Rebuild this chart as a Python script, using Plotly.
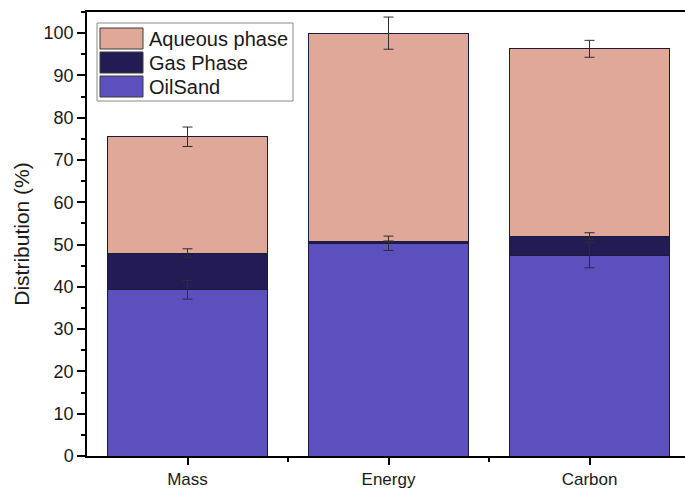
import numpy as np
import plotly.graph_objects as go

# Distribution of mass, energy and carbon across product phases
categories = ["Mass", "Energy", "Carbon"]
oilsand = [39.3, 50.3, 47.5]
oilsand_err = [2.2, 1.7, 3.0]
gas_phase = [8.7, 0.5, 4.5]
gas_phase_err = [1.0, 0.0, 0.8]
aqueous = [27.5, 49.2, 44.3]
aqueous_err = [2.3, 3.8, 2.0]

series = [
    ("OilSand", oilsand, oilsand_err, "#5b50bd"),
    ("Gas Phase", gas_phase, gas_phase_err, "#231c54"),
    ("Aqueous phase", aqueous, aqueous_err, "#e0a899"),
]

W, H = 685, 489
ML, MR, MT, MB = 87, 0, 12, 33

fig = go.Figure()
xpos = list(range(len(categories)))
for name, vals, errs, color in series:
    fig.add_trace(go.Bar(
        x=xpos, y=vals, name=name, width=0.8,
        marker=dict(color=color, line=dict(color="#1c1a3c", width=1)),
        showlegend=False,
    ))

# Error bars sit at the top of each stacked segment, drawn above all bars
tops = np.cumsum([s[1] for s in series], axis=0)
for (name, _, errs, _), top in zip(series, tops):
    fig.add_trace(go.Scatter(
        x=xpos, y=top.tolist(), mode="markers",
        marker=dict(size=1, opacity=0),
        error_y=dict(type="data", array=errs, visible=True,
                     color="#2e2e2e", thickness=1, width=5),
        showlegend=False, hoverinfo="skip",
    ))

fig.update_layout(
    width=W, height=H,
    margin=dict(l=ML, r=MR, t=MT, b=MB),
    barmode="stack",
    plot_bgcolor="white", paper_bgcolor="white",
    font=dict(family="Liberation Sans, Arial, sans-serif", color="#1a1a1a", size=15),
)
fig.update_xaxes(
    range=[-0.5, 2.475], tickmode="array", tickvals=xpos, ticktext=categories,
    showline=True, linecolor="black", linewidth=1.5, mirror=True,
    ticks="outside", ticklen=7, tickwidth=1.5, tickcolor="black",
    minor=dict(tickvals=[0.5, 1.5], ticks="outside", ticklen=4, tickwidth=1.5, tickcolor="black"),
    showgrid=False, zeroline=False, tickfont=dict(size=17),
)
fig.update_yaxes(
    range=[0, 105], tickmode="linear", tick0=0, dtick=10,
    showline=True, linecolor="black", linewidth=1.5,
    ticks="outside", ticklen=8, tickwidth=1.5, tickcolor="black",
    minor=dict(dtick=5, ticks="outside", ticklen=4, tickwidth=1.5, tickcolor="black"),
    showgrid=False, zeroline=False, tickfont=dict(size=18),
    title=dict(text="Distribution (%)", font=dict(size=21), standoff=8),
)

# Legend drawn as a framed box with wide swatches
pw, ph = W - ML - MR, H - MT - MB


def px(x):
    return (x - ML) / pw


def py(y):
    return (H - MB - y) / ph


fig.add_shape(type="rect", xref="paper", yref="paper",
              x0=px(97), x1=px(293), y0=py(101), y1=py(23),
              line=dict(color="#8a8a8a", width=1), fillcolor="white", layer="above")
legend_rows = [series[2], series[1], series[0]]
for i, (name, _, _, color) in enumerate(legend_rows):
    top = 28 + i * 24
    fig.add_shape(type="rect", xref="paper", yref="paper",
                  x0=px(100), x1=px(143), y0=py(top + 21), y1=py(top),
                  line=dict(color="#3a3a3a", width=1), fillcolor=color, layer="above")
    fig.add_annotation(xref="paper", yref="paper", x=px(147), y=py(top + 11),
                       text=name, showarrow=False, xanchor="left", yanchor="middle",
                       font=dict(size=20, color="#1a1a1a"))

fig.write_html("out.html")
